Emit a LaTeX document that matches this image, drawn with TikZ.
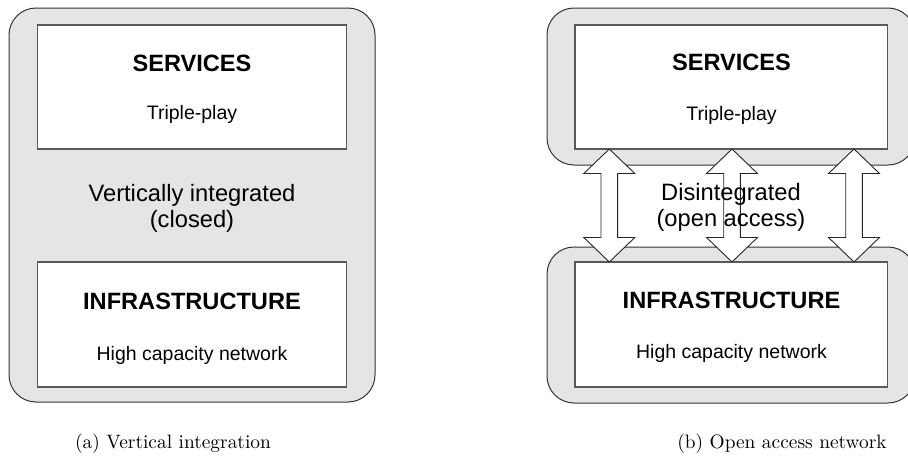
\documentclass[tikz,border=0pt]{standalone}
\usepackage{fontspec}
\newfontfamily\arial{Liberation Sans}
\newfontfamily\capfont{lmroman10-regular}[Extension=.otf]
\usetikzlibrary{calc}

\tikzset{
  panel/.style={draw=black!80, line width=1pt, fill=gray!20, rounded corners=27pt, outer sep=0pt, inner sep=0pt},
  layerbox/.style={draw=black!65, line width=1.3pt, fill=white, outer sep=0pt, inner sep=0pt},
  blkarrow/.style={draw=black!85, line width=0.9pt, fill=white, line join=miter},
  heading/.style={font=\arial\bfseries\fontsize{23.6}{26}\selectfont, anchor=base, inner sep=0pt},
  subline/.style={font=\arial\fontsize{19.5}{22}\selectfont, anchor=base, inner sep=0pt},
  midline/.style={font=\arial\fontsize{23.7}{26}\selectfont, anchor=base, inner sep=0pt},
  caption/.style={font=\capfont\fontsize{19.4}{22}\selectfont, anchor=base, inner sep=0pt},
}

% draws a hollow double-headed block arrow between two tips
\newcommand\blockarrow[2]{%
  \draw[blkarrow] (#1) -- ++(25.5,24.5) -- ++(-17.2,0)
    -- ($(#2)+(8.3,-24.5)$) -- ++(17.2,0) -- (#2)
    -- ++(-25.5,-24.5) -- ++(17.2,0)
    -- ($(#1)+(-8.3,24.5)$) -- ++(-17.2,0) -- cycle;%
}

\begin{document}
\begin{tikzpicture}[x=1pt, y=-1pt]
  \useasboundingbox (0,0) rectangle (908,471);
  \begin{scope}
  \clip (0,0) rectangle (908,471);

  % (a) vertically integrated
  \node[panel, minimum width=366, minimum height=394] (panA) at (192,205) {};
  \node[layerbox, minimum width=308.6, minimum height=124] (svcA) at (192,87) {};
  \node[layerbox, minimum width=308.6, minimum height=125] (infA) at (192,324.5) {};

  % (b) open access
  \node[panel, minimum width=368, minimum height=157] (topB) at (731,86.5) {};
  \node[panel, minimum width=368, minimum height=156] (botB) at (731,325) {};
  \node[layerbox, minimum width=312.3, minimum height=124] (svcB) at (731.2,87) {};
  \node[layerbox, minimum width=312.3, minimum height=125] (infB) at (731.2,324.5) {};
  \end{scope}

  % tips of the block arrows on the layer boxes
  \coordinate (t1) at (svcB.south -| 609.3,0);
  \coordinate (b1) at (infB.north -| 609.3,0);
  \coordinate (t2) at (svcB.south -| 732,0);
  \coordinate (b2) at (infB.north -| 732,0);
  \coordinate (t3) at (svcB.south -| 854,0);
  \coordinate (b3) at (infB.north -| 854,0);
  \blockarrow{t1}{b1}
  \blockarrow{t2}{b2}
  \blockarrow{t3}{b3}

  % texts of (a)
  \node[heading] (svcAt) at (192,71) {SERVICES};
  \node[subline] (svcAs) at (192,119.5) {Triple-play};
  \node[midline] (midA1) at (192,201.5) {Vertically integrated};
  \node[midline] (midA2) at (192,227.5) {(closed)};
  \node[heading] (infAt) at (192,309) {INFRASTRUCTURE};
  \node[subline] (infAs) at (192,360) {High capacity network};

  % texts of (b)
  \node[heading] (svcBt) at (731.5,70.5) {SERVICES};
  \node[subline] (svcBs) at (731.5,120) {Triple-play};
  \node[midline] (midB1) at (731,200.5) {Disintegrated};
  \node[midline] (midB2) at (731,226.5) {(open access)};
  \node[heading] (infBt) at (731.5,308.5) {INFRASTRUCTURE};
  \node[subline] (infBs) at (731.5,358) {High capacity network};

  % captions
  \node[caption] (capA) at (173,448) {(a) Vertical integration};
  \node[caption] (capB) at (782,448) {(b) Open access network};
\end{tikzpicture}
\end{document}
